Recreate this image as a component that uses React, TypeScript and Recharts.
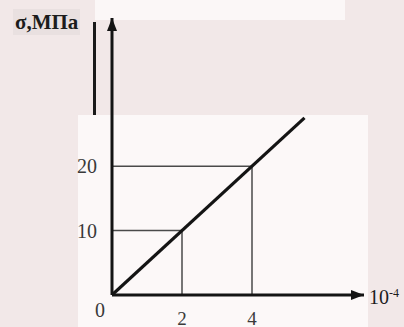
import React from 'react';
import { LineChart, Line, XAxis, YAxis, ReferenceLine, ReferenceDot } from 'recharts';

// strain (×10⁻⁴) vs stress (MPa)
const strain = [0, 5.5];
const stress = [0, 27.5];
const xTicks = [0, 2, 4];
const yTicks = [10, 20];
const guidePoints = [
  { x: 2, y: 10 },
  { x: 4, y: 20 },
];
const X_MAX = 7.2;
const Y_MAX = 43;

const data = strain.map((x, i) => ({ x, y: stress[i] }));

const INK = '#141414';
const GUIDE = '#4a4a4a';
const FONT = '"Liberation Serif", "DejaVu Serif", serif';

const XTick = (props: any) => {
  const { x, y, payload } = props;
  if (payload.value === 0) {
    return (
      <text x={x - 12} y={y + 13} textAnchor="middle" dominantBaseline="central" fontFamily={FONT} fontSize={20} fill="#3a3a3a">
        0
      </text>
    );
  }
  return (
    <text x={x} y={y + 21} textAnchor="middle" dominantBaseline="central" fontFamily={FONT} fontSize={19} fill="#3a3a3a">
      {payload.value}
    </text>
  );
};

const YTick = (props: any) => {
  const { x, y, payload } = props;
  return (
    <text x={x - 13} y={y} textAnchor="end" dominantBaseline="central" fontFamily={FONT} fontSize={20} fill="#3a3a3a">
      {payload.value}
    </text>
  );
};

const ArrowRight = (props: any) => {
  const { cx, cy } = props;
  return <polygon points={`${cx},${cy} ${cx - 13},${cy - 5} ${cx - 13},${cy + 5}`} fill={INK} />;
};

const ArrowUp = (props: any) => {
  const { cx, cy } = props;
  return <polygon points={`${cx},${cy} ${cx - 5},${cy + 13} ${cx + 5},${cy + 13}`} fill={INK} />;
};

export default function App() {
  return (
    <div style={{ position: 'absolute', left: 0, top: 0, width: 404, height: 327, background: '#f2e8e8', overflow: 'hidden' }}>
      <div style={{ position: 'absolute', left: 78, top: 115, width: 290, height: 212, background: '#fcf8f8' }} />
      <div style={{ position: 'absolute', left: 95, top: 0, width: 250, height: 20, background: '#fbf7f7' }} />
      <div style={{ position: 'absolute', left: 93, top: 22, width: 3, height: 93, background: '#1a1a1a' }} />
      <div style={{ position: 'absolute', left: 0, top: 0 }}>
        <LineChart width={404} height={327} data={data} margin={{ top: 18, right: 40, bottom: 0, left: 0 }}>
          <XAxis
            dataKey="x"
            type="number"
            domain={[0, X_MAX]}
            ticks={xTicks}
            tick={<XTick />}
            tickLine={false}
            tickSize={0}
            height={32}
            axisLine={{ stroke: INK, strokeWidth: 3 }}
            allowDataOverflow
          />
          <YAxis
            type="number"
            domain={[0, Y_MAX]}
            ticks={yTicks}
            tick={<YTick />}
            tickLine={false}
            tickSize={0}
            width={112}
            axisLine={{ stroke: INK, strokeWidth: 3 }}
            allowDataOverflow
          />
          {guidePoints.map((p) => (
            <ReferenceLine
              key={`h${p.x}`}
              segment={[{ x: 0, y: p.y }, { x: p.x, y: p.y }]}
              stroke={GUIDE}
              strokeWidth={1.5}
            />
          ))}
          {guidePoints.map((p) => (
            <ReferenceLine
              key={`v${p.x}`}
              segment={[{ x: p.x, y: 0 }, { x: p.x, y: p.y }]}
              stroke={GUIDE}
              strokeWidth={1.5}
            />
          ))}
          <Line dataKey="y" type="linear" stroke={INK} strokeWidth={3.2} dot={false} isAnimationActive={false} />
          <ReferenceDot x={X_MAX} y={0} r={5} shape={<ArrowRight />} ifOverflow="visible" />
          <ReferenceDot x={0} y={Y_MAX} r={5} shape={<ArrowUp />} ifOverflow="visible" />
        </LineChart>
      </div>
      <div style={{ position: 'absolute', left: 13, top: 9, fontFamily: FONT, fontSize: 21, fontWeight: 'bold', color: '#1c1c1c', whiteSpace: 'nowrap', lineHeight: '26px', background: '#e9e0e0', padding: '0 2px' }}>
        σ,МПа
      </div>
      <div style={{ position: 'absolute', left: 369, top: 284, fontFamily: FONT, fontSize: 20, color: '#1c1c1c', whiteSpace: 'nowrap', lineHeight: '26px' }}>
        10<sup style={{ fontSize: 12, verticalAlign: 'top', position: 'relative', top: -4 }}>-4</sup>
      </div>
    </div>
  );
}
